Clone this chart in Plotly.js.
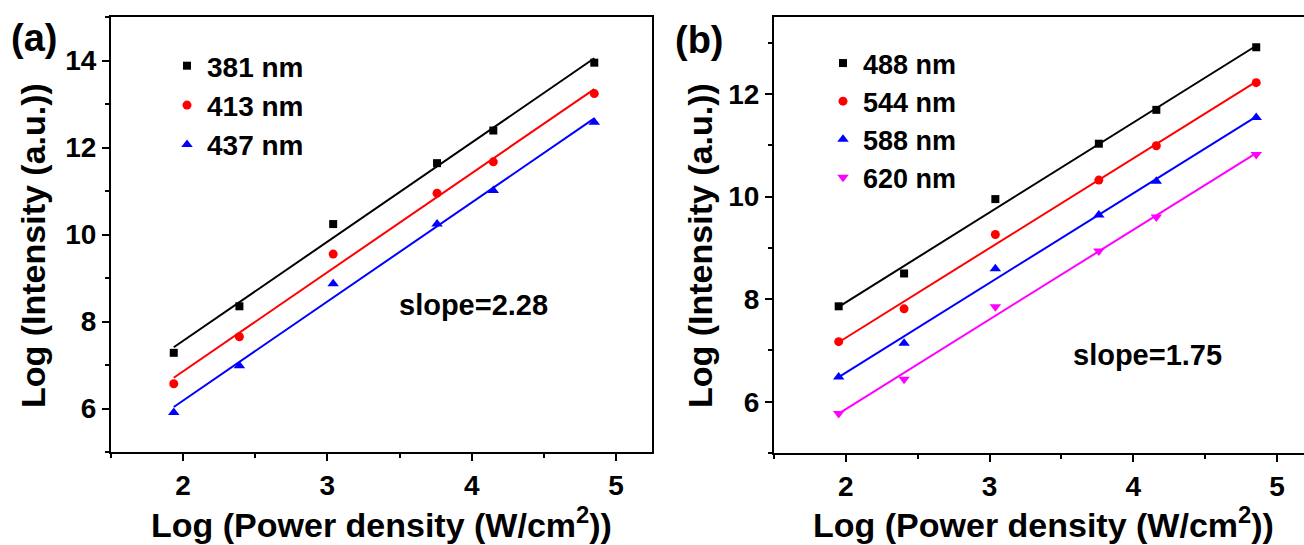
<!DOCTYPE html>
<html><head><meta charset="utf-8">
<script src="https://cdn.plot.ly/plotly-3.0.1.min.js"></script>
<style>html,body{margin:0;padding:0;overflow:hidden;background:#fff;} #chart{width:1320px;height:545px;}</style>
</head><body><div id="chart"></div>
<script>
// ---- Panel (a) data ----
const xA = [1.935, 2.39, 3.04, 3.76, 4.15, 4.85];
const a381 = [7.28, 8.35, 10.24, 11.64, 12.39, 13.95];
const a413 = [6.57, 7.65, 9.55, 10.95, 11.67, 13.24];
const a437 = [5.91, 6.98, 8.87, 10.24, 11.01, 12.58];
const namesA = ['381 nm', '413 nm', '437 nm'];
// ---- Panel (b) data ----
const xB = [1.95, 2.405, 3.04, 3.76, 4.16, 4.855];
const b488 = [7.86, 8.50, 9.95, 11.03, 11.69, 12.91];
const b544 = [7.17, 7.81, 9.26, 10.32, 10.99, 12.22];
const b588 = [6.48, 7.14, 8.59, 9.64, 10.30, 11.54];
const b620 = [5.77, 6.44, 7.85, 8.94, 9.60, 10.82];
const namesB = ['488 nm', '544 nm', '588 nm', '620 nm'];
// ---- ticks / labels ----
const xTicks = [2, 3, 4, 5];
const yTicksA = [6, 8, 10, 12, 14];
const yTicksB = [6, 8, 10, 12];
const slopeA = 'slope=2.28';
const slopeB = 'slope=1.75';
const panelA = '(a)', panelB = '(b)';
const xTitle = 'Log (Power density (W/cm<sup>2</sup>))';
const yTitle = 'Log (Intensity (a.u.))';

const W = 1320, H = 545;
const px = v => v / W, py = v => 1 - v / H;
const FONT = {family: '"Liberation Sans", Arial, sans-serif', color: '#000', weight: 'bold'};

function fit(x, y) {
  const n = x.length;
  const mx = x.reduce((s, v) => s + v, 0) / n;
  const my = y.reduce((s, v) => s + v, 0) / n;
  let sxy = 0, sxx = 0;
  for (let i = 0; i < n; i++) { sxy += (x[i] - mx) * (y[i] - my); sxx += (x[i] - mx) ** 2; }
  const k = sxy / sxx, b = my - k * mx;
  const x0 = Math.min(...x), x1 = Math.max(...x);
  return {x: [x0, x1], y: [k * x0 + b, k * x1 + b]};
}

const traces = [];
function addSeries(x, y, name, color, symbol, size, xa, ya, leg) {
  const f = fit(x, y);
  traces.push({x: f.x, y: f.y, mode: 'lines', line: {color: color, width: 2}, xaxis: xa, yaxis: ya, showlegend: false, hoverinfo: 'skip'});
  traces.push({x: x, y: y, mode: 'markers', name: name, marker: {color: color, symbol: symbol, size: size}, xaxis: xa, yaxis: ya, legend: leg});
}
addSeries(xA, a381, namesA[0], '#000000', 'square', 8, 'x', 'y', 'legend');
addSeries(xA, a413, namesA[1], '#ff0000', 'circle', 9, 'x', 'y', 'legend');
addSeries(xA, a437, namesA[2], '#0000ff', 'triangle-up', 10, 'x', 'y', 'legend');
addSeries(xB, b488, namesB[0], '#000000', 'square', 8, 'x2', 'y2', 'legend2');
addSeries(xB, b544, namesB[1], '#ff0000', 'circle', 9, 'x2', 'y2', 'legend2');
addSeries(xB, b588, namesB[2], '#0000ff', 'triangle-up', 10, 'x2', 'y2', 'legend2');
addSeries(xB, b620, namesB[3], '#ff00ff', 'triangle-down', 10, 'x2', 'y2', 'legend2');

function axis(extra) {
  return Object.assign({
    showline: true, linewidth: 2, linecolor: '#000', mirror: true,
    ticks: 'outside', ticklen: 7, tickwidth: 2, tickcolor: '#000',
    showgrid: false, zeroline: false, fixedrange: true,
    tickfont: Object.assign({}, FONT, {size: 28}),
    tickmode: 'array'
  }, extra);
}
function minor(d) { return {tickmode: 'linear', tick0: 0, dtick: d, ticks: 'outside', ticklen: 4, tickwidth: 2, tickcolor: '#000', showgrid: false}; }

const legendBase = {xanchor: 'left', yanchor: 'top', bgcolor: 'rgba(0,0,0,0)', borderwidth: 0, tracegroupgap: 0};

function ann(text, x, y, size, extra) {
  return Object.assign({text: text, x: px(x), y: py(y), xref: 'paper', yref: 'paper', showarrow: false,
    xanchor: 'center', yanchor: 'middle', font: Object.assign({}, FONT, {size: size})}, extra || {});
}

const layout = {
  width: W, height: H, margin: {l: 0, r: 0, t: 0, b: 0},
  paper_bgcolor: '#fff', plot_bgcolor: '#fff', font: FONT,
  xaxis: axis({domain: [px(111), px(652)], range: [1.5, 5.25], tickvals: xTicks, minor: minor(0.5), anchor: 'y'}),
  yaxis: axis({domain: [py(452), py(17)], range: [5, 15], tickvals: yTicksA, minor: minor(1), anchor: 'x'}),
  xaxis2: axis({domain: [px(774), px(1313)], range: [1.5, 5.25], tickvals: xTicks, minor: minor(0.5), anchor: 'y2'}),
  yaxis2: axis({domain: [py(453), py(17)], range: [5, 13.5], tickvals: yTicksB, minor: minor(1), anchor: 'x2'}),
  legend: Object.assign({x: px(167), y: py(41), font: Object.assign({}, FONT, {size: 28})}, legendBase),
  legend2: Object.assign({x: px(823), y: py(39), font: Object.assign({}, FONT, {size: 27})}, legendBase),
  annotations: [
    ann(panelA, 34, 38, 38),
    ann(panelB, 699, 40, 38),
    ann(slopeA, 473, 305, 29),
    ann(slopeB, 1147, 355, 29),
    ann(xTitle, 381.5, 522, 34),
    ann(xTitle, 1043.5, 522, 34),
    ann(yTitle, 33, 246, 34, {textangle: -90}),
    ann(yTitle, 700, 246, 34, {textangle: -90})
  ]
};

Plotly.newPlot('chart', traces, layout, {displayModeBar: false, staticPlot: true});
</script>
</body></html>
